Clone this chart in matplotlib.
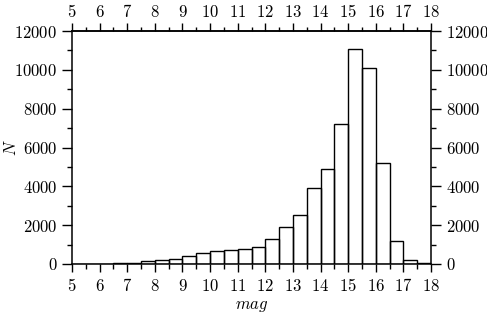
import matplotlib
matplotlib.use("Agg")
import matplotlib.pyplot as plt
from matplotlib.ticker import MultipleLocator, FuncFormatter

# Data: histogram of magnitudes (bin left edges, width 0.5 mag)
bin_left = [5.0, 5.5, 6.0, 6.5, 7.0, 7.5, 8.0, 8.5, 9.0, 9.5, 10.0, 10.5, 11.0,
            11.5, 12.0, 12.5, 13.0, 13.5, 14.0, 14.5, 15.0, 15.5, 16.0, 16.5,
            17.0, 17.5]
counts = [20, 20, 25, 40, 70, 135, 185, 270, 425, 560, 680, 730, 770,
          870, 1310, 1930, 2510, 3900, 4870, 7200, 11050, 10120, 5200, 1200,
          220, 30]
bin_width = 0.5
x_label = "$mag$"
y_label = "$N$"

plt.rcParams["mathtext.fontset"] = "cm"
plt.rcParams["font.family"] = "serif"

FS = 12

fig = plt.figure(figsize=(4.87, 3.2), dpi=100)
ax = fig.add_axes([72/487, (320-264)/320, (431-72)/487, (264-31)/320])

ax.bar(bin_left, counts, width=bin_width, align="edge", fill=False,
       edgecolor="black", linewidth=1.0)

ax.set_xlim(5, 18)
ax.set_ylim(0, 12000)

fmt = FuncFormatter(lambda v, p: "$%d$" % round(v))
ax.xaxis.set_major_locator(MultipleLocator(1))
ax.xaxis.set_minor_locator(MultipleLocator(0.5))
ax.yaxis.set_major_locator(MultipleLocator(2000))
ax.yaxis.set_minor_locator(MultipleLocator(1000))
ax.xaxis.set_major_formatter(fmt)
ax.yaxis.set_major_formatter(fmt)

ax.tick_params(which="both", direction="out", top=False, right=True,
               labelright=True, labelsize=FS, width=1.0)
ax.tick_params(axis="x", which="major", length=6, pad=4)
ax.tick_params(axis="y", which="major", length=7, pad=3.5)
ax.tick_params(which="minor", length=3.3)

top = ax.secondary_xaxis("top")
top.xaxis.set_major_locator(MultipleLocator(1))
top.xaxis.set_minor_locator(MultipleLocator(0.5))
top.xaxis.set_major_formatter(fmt)
top.tick_params(which="both", direction="out", labelsize=FS, width=1.0)
top.tick_params(which="major", length=5.5, pad=1.5)
top.tick_params(which="minor", length=3)
top.spines["top"].set_linewidth(1.1)

for s in ax.spines.values():
    s.set_linewidth(1.1)

ax.set_xlabel(x_label, fontsize=FS)
ax.xaxis.set_label_coords(0.5, -0.14)
ax.set_ylabel(y_label, fontsize=FS)
ax.yaxis.set_label_coords(-0.145, 0.5)

fig.savefig("out.png", dpi=100)
